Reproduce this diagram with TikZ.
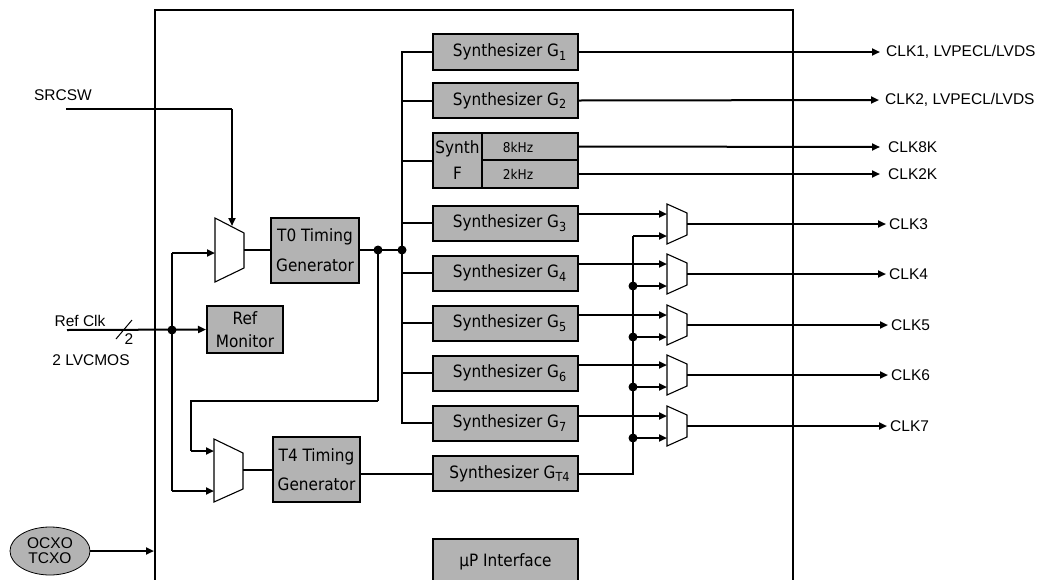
\documentclass[tikz,border=0pt]{standalone}
\usepackage{fontspec}
\setmainfont{Liberation Sans}
\newfontfamily\bxf{DejaVu Sans Condensed}
\usetikzlibrary{arrows.meta,shapes.geometric}
\definecolor{boxgray}{HTML}{B3B3B3}
\newcommand\sbs[1]{\raisebox{-3.5pt}{\fontsize{12.5}{12.5}\selectfont #1}}
\begin{document}
\begin{tikzpicture}[x=1pt,y=-1pt,
  wire/.style={line width=2pt},
  thinwire/.style={line width=1.3pt},
  arr/.style={wire,-{Triangle[length=8pt,width=7pt]}},
  blk/.style={draw,line width=2pt,fill=boxgray,inner sep=0pt,align=center,
    font=\bxf\fontsize{17}{30}\selectfont},
  sbox/.style={blk,minimum width=145pt,minimum height=35pt},
  lbl/.style={font=\fontsize{15.5}{15}\selectfont,inner sep=0pt,align=center},
  dot/.style={circle,fill,inner sep=0pt,minimum size=9pt},
  muxs/.style={line width=1.1pt,fill=white,line join=miter}]
\useasboundingbox (0,0) rectangle (1042,579);

% chip outline
\draw[wire] (155,585) -- (155,10) -- (793,10) -- (793,585);

% synthesizer blocks
\node[sbox,minimum height=36pt] (g1) at (505.5,52) {\hspace{8pt}Synthesizer G\sbs{1}};
\node[sbox] (g2) at (505.5,100.5) {\hspace{8pt}Synthesizer G\sbs{2}};
\node[blk,minimum width=49pt,minimum height=55pt,font=\bxf\fontsize{17}{26}\selectfont] (sf) at (457.5,160.5) {Synth\\F};
\node[blk,minimum width=96pt,minimum height=27pt] (f8) at (530,146.5) {};
\node[blk,minimum width=96pt,minimum height=28pt] (f2) at (530,174) {};
\node[font=\bxf\fontsize{13.5}{14}\selectfont,inner sep=0pt] (f8t) at (518,147) {8kHz};
\node[font=\bxf\fontsize{13.5}{14}\selectfont,inner sep=0pt] (f2t) at (518,174) {2kHz};
\node[sbox] (g3) at (505.5,223) {\hspace{8pt}Synthesizer G\sbs{3}};
\node[sbox] (g4) at (505.5,273) {\hspace{8pt}Synthesizer G\sbs{4}};
\node[sbox] (g5) at (505.5,323) {\hspace{8pt}Synthesizer G\sbs{5}};
\node[sbox] (g6) at (505.5,373) {\hspace{8pt}Synthesizer G\sbs{6}};
\node[sbox] (g7) at (505.5,423) {\hspace{8pt}Synthesizer G\sbs{7}};
\node[sbox] (gt4) at (505.5,473.5) {\hspace{8pt}Synthesizer G\sbs{T4}};
\node[sbox,minimum height=46pt] (up) at (505.5,562) {\textmu P Interface};

% timing generators and ref monitor
\node[blk,minimum width=88pt,minimum height=65pt] (t0) at (315,250.5) {T0 Timing\\Generator};
\node[blk,minimum width=87pt,minimum height=65pt,font=\bxf\fontsize{17}{29}\selectfont] (t4) at (316.5,469.5) {T4 Timing\\Generator};
\node[blk,minimum width=76pt,minimum height=47pt,font=\bxf\fontsize{17}{23}\selectfont] (rmon) at (245,329.5) {Ref\\Monitor};

% input muxes
\draw[muxs] (215,218) -- (244,233) -- (244,268) -- (215,282) -- cycle;
\coordinate (tma) at (215,253);
\coordinate (tms) at (232,226);
\coordinate (tmo) at (244,250);
\draw[muxs] (214,439) -- (243,453) -- (243,489) -- (214,502) -- cycle;
\coordinate (fma) at (214,451);
\coordinate (fmb) at (214,491);
\coordinate (fmo) at (243,470);

% output muxes
\foreach \k/\t in {1/204,2/254,3/305,4/355,5/406} {
  \draw[muxs] (667,\t) -- (687,\t+9) -- (687,\t+31) -- (667,\t+40) -- cycle;
  \coordinate (m\k a) at (667,\t+10);
  \coordinate (m\k b) at (667,\t+32);
  \coordinate (m\k o) at (687,\t+20);
}

% external labels
\node[lbl] (srcsw) at (63,95) {SRCSW};
\node[lbl] (refclk) at (80,321) {Ref Clk};
\node[lbl] (lvc) at (91,360) {2 LVCMOS};
\node[lbl] (two) at (129,339) {2};
\node[ellipse,draw,line width=0.8pt,fill=boxgray,minimum width=80pt,minimum height=48pt,inner sep=0pt,
  font=\fontsize{15.5}{15}\selectfont,align=center] (osc) at (50,551) {OCXO\\TCXO};

\node[lbl,anchor=west] (clk1) at (886,52) {CLK1, LVPECL/LVDS};
\node[lbl,anchor=west] (clk2) at (885,100) {CLK2, LVPECL/LVDS};
\node[lbl,anchor=west] (clk8) at (888,147) {CLK8K};
\node[lbl,anchor=west] (clk2k) at (888,174) {CLK2K};
\node[lbl,anchor=west] (clk3) at (889,224) {CLK3};
\node[lbl,anchor=west] (clk4) at (889,274) {CLK4};
\node[lbl,anchor=west] (clk5) at (891,325) {CLK5};
\node[lbl,anchor=west] (clk6) at (891,375) {CLK6};
\node[lbl,anchor=west] (clk7) at (890,426) {CLK7};

% SRCSW
\coordinate (sin) at (66,109);
\draw[wire] (sin) -- (sin -| tms);
\draw[arr] (sin -| tms) -- (tms);

% Ref clk
\coordinate (rin) at (67,330);
\node[dot] (rd) at (172,330) {};
\draw[arr] (rin) -- (rmon.west);
\draw[line width=1pt] (116,339) -- (132,320);
\coordinate (va) at (172,253);
\coordinate (vb) at (172,491);
\draw[wire] (va) -- (vb);
\draw[arr] (va) -- (tma);
\draw[arr] (vb) -- (fmb);

% oscillator
\coordinate (oscin) at (154,551);
\draw[arr] (osc.east) -- (oscin);

% T0 path
\draw[wire] (tmo) -- (t0.west |- tmo);
\node[dot] (d0) at (378,250) {};
\node[dot] (d1) at (402,250) {};
\draw[wire] (t0.east |- d0) -- (d1.center);
\draw[wire] (d0.center) -- (378,401);
\draw[thinwire] (378,401) -- (191,401) -- (191,451);
\draw[arr] (191,451) -- (fma);

% bus
\coordinate (bus) at (402,52);
\draw[wire] (g1.west) -- (bus) -- (bus |- g7.west) -- (g7.west);
\foreach \g in {g2,sf,g3,g4,g5,g6} { \draw[wire] (bus |- \g.west) -- (\g.west); }

% T4 path
\draw[wire] (fmo) -- (t4.west |- fmo);
\draw[wire] (gt4.west -| t4.east) -- (gt4.west);

% synth outputs
\draw[arr] (g1.east) -- ([xshift=-6pt]clk1.west);
\draw[arr] (g2.east) -- ([xshift=-6pt]clk2.west);
\draw[arr] (f8.east) -- ([xshift=-8pt]clk8.west);
\draw[arr] (f2.east) -- ([xshift=-8pt]clk2k.west);
\draw[arr] (g3.east |- m1a) -- (m1a);
\draw[arr] (g4.east |- m2a) -- (m2a);
\draw[arr] (g5.east |- m3a) -- (m3a);
\draw[arr] (g6.east |- m4a) -- (m4a);
\draw[arr] (g7.east |- m5a) -- (m5a);

% GT4 distribution
\coordinate (bj) at (633,473.5);
\draw[wire] (gt4.east) -- (bj) -- (bj |- m1b);
\draw[arr] (bj |- m1b) -- (m1b);
\foreach \k in {2,3,4,5} {
  \node[dot] (dd\k) at (bj |- m\k b) {};
  \draw[arr] (dd\k.center) -- (m\k b);
}

% mux outputs
\draw[arr] (m1o) -- ([xshift=-3pt]clk3.west |- m1o);
\draw[arr] (m2o) -- ([xshift=-3pt]clk4.west |- m2o);
\draw[arr] (m3o) -- ([xshift=-3pt]clk5.west |- m3o);
\draw[arr] (m4o) -- ([xshift=-3pt]clk6.west |- m4o);
\draw[arr] (m5o) -- ([xshift=-3pt]clk7.west |- m5o);
\end{tikzpicture}
\end{document}
